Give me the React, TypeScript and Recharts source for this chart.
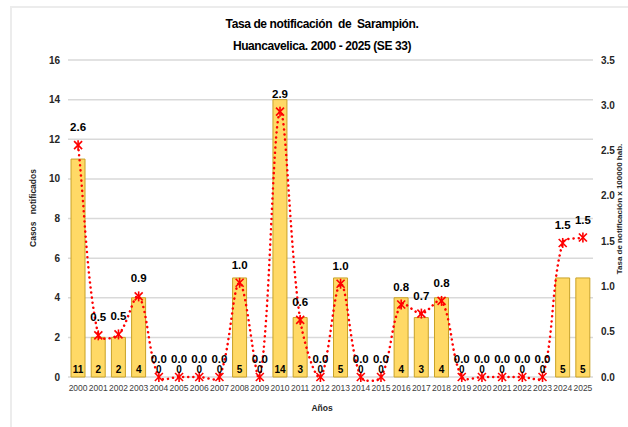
import { ComposedChart, Bar, Line, XAxis, YAxis, CartesianGrid, LabelList, Label } from "recharts";

const years = ["2000", "2001", "2002", "2003", "2004", "2005", "2006", "2007", "2008", "2009", "2010", "2011", "2012", "2013", "2014", "2015", "2016", "2017", "2018", "2019", "2020", "2021", "2022", "2023", "2024", "2025"];
const cases = [11, 2, 2, 4, 0, 0, 0, 0, 5, 0, 14, 3, 0, 5, 0, 0, 4, 3, 4, 0, 0, 0, 0, 0, 5, 5];
const rates = [2.56, 0.46, 0.47, 0.89, 0, 0, 0, 0, 1.04, 0, 2.93, 0.63, 0, 1.03, 0, 0, 0.8, 0.7, 0.84, 0, 0, 0, 0, 0, 1.48, 1.54];
const casesTicks = [0, 2, 4, 6, 8, 10, 12, 14, 16];
const rateTicks = [0, 0.5, 1, 1.5, 2, 2.5, 3, 3.5];

const data = years.map((year, i) => ({ year, cases: cases[i], rate: rates[i] }));

const FONT = "'Liberation Sans', Arial, sans-serif";

// smoothed line close to Excel's: tangents weighted by segment lengths
function excelSmooth(context: any) {
  let pts: number[][] = [];
  const dist = (a: number[], b: number[]) => Math.hypot(b[0] - a[0], b[1] - a[1]);
  return {
    areaStart() {},
    areaEnd() {},
    lineStart() {
      pts = [];
    },
    point(x: number, y: number) {
      pts.push([+x, +y]);
    },
    lineEnd() {
      const n = pts.length;
      if (!n) return;
      context.moveTo(pts[0][0], pts[0][1]);
      for (let i = 0; i < n - 1; i++) {
        const p0 = pts[Math.max(i - 1, 0)];
        const p1 = pts[i];
        const p2 = pts[i + 1];
        const p3 = pts[Math.min(i + 2, n - 1)];
        const d01 = dist(p0, p1);
        const d12 = dist(p1, p2);
        const d23 = dist(p2, p3);
        const f1 = d01 + d12 > 0 ? d12 / (d01 + d12) / 3 : 0;
        const f2 = d12 + d23 > 0 ? d12 / (d12 + d23) / 3 : 0;
        context.bezierCurveTo(
          p1[0] + (p2[0] - p0[0]) * f1,
          p1[1] + (p2[1] - p0[1]) * f1,
          p2[0] - (p3[0] - p1[0]) * f2,
          p2[1] - (p3[1] - p1[1]) * f2,
          p2[0],
          p2[1]
        );
      }
    },
  };
}

const StarDot = (props: any) => {
  const { cx, cy } = props;
  if (cx == null || cy == null) return null;
  return (
    <g stroke="#FF0000" strokeWidth={1.6}>
      <line x1={cx - 4} y1={cy - 4} x2={cx + 4} y2={cy + 4} />
      <line x1={cx - 4} y1={cy + 4} x2={cx + 4} y2={cy - 4} />
      <line x1={cx} y1={cy - 5} x2={cx} y2={cy + 5} />
    </g>
  );
};

export default function App() {
  return (
    <div style={{ position: "absolute", left: 0, top: 0, width: 628, height: 427, background: "#fff", fontFamily: FONT }}>
      <div style={{ position: "absolute", left: 10, top: 6, right: 0, bottom: 0, borderLeft: "2px solid #ececec", borderTop: "2px solid #ececec" }} />
      <ComposedChart
        width={628}
        height={427}
        data={data}
        margin={{ top: 60, right: 0, bottom: 20, left: 28 }}
        barCategoryGap="15%"
        style={{ position: "absolute", left: 0, top: 0 }}
      >
        <text x={322} y={28} textAnchor="middle" fontFamily={FONT} fontSize={12} fontWeight="bold" fill="#000" letterSpacing={-0.4} style={{ whiteSpace: "pre" }}>
          {"Tasa de notificación  de  Sarampión."}
        </text>
        <text x={322} y={50} textAnchor="middle" fontFamily={FONT} fontSize={12} fontWeight="bold" fill="#000" letterSpacing={-0.4}>
          Huancavelica. 2000 - 2025 (SE 33)
        </text>
        <CartesianGrid vertical={false} stroke="#d9d9d9" strokeWidth={1.5} yAxisId="left" />
        <XAxis
          dataKey="year"
          interval={0}
          height={30}
          axisLine={false}
          tickLine={false}
          tick={{ fontSize: 8.5, fill: "#404040", fontFamily: FONT }}
        >
          <Label
            content={() => (
              <text x={322} y={411} textAnchor="middle" fontFamily={FONT} fontSize={8.5} fontWeight="bold" fill="#262626">
                Años
              </text>
            )}
          />
        </XAxis>
        <YAxis
          yAxisId="left"
          width={40}
          domain={[0, 16]}
          ticks={casesTicks}
          axisLine={false}
          tickLine={false}
          tick={{ fontSize: 10, fill: "#262626", fontWeight: "bold", fontFamily: FONT }}
        >
          <Label
            content={() => (
              <text x={36} y={208} transform="rotate(-90 36 208)" textAnchor="middle" fontFamily={FONT} fontSize={8.5} fontWeight="bold" fill="#262626" style={{ whiteSpace: "pre" }}>
                {"Casos   notificados"}
              </text>
            )}
          />
        </YAxis>
        <YAxis
          yAxisId="right"
          orientation="right"
          width={35}
          domain={[0, 3.5]}
          ticks={rateTicks}
          tickFormatter={(v: number) => v.toFixed(1)}
          axisLine={false}
          tickLine={false}
          tick={{ fontSize: 10, fill: "#262626", fontWeight: "bold", fontFamily: FONT }}
        >
          <Label
            content={() => (
              <text x={622} y={209} transform="rotate(-90 622 209)" textAnchor="middle" fontFamily={FONT} fontSize={8} fontWeight="bold" fill="#262626">
                Tasa de notificación x 100000 hab.
              </text>
            )}
          />
        </YAxis>
        <Bar yAxisId="left" dataKey="cases" fill="#FFD966" stroke="#C9A227" strokeWidth={1} isAnimationActive={false} />
        {/* invisible baseline series that carries the case counts at the bottom of each bar (also for zero bars) */}
        <Line
          yAxisId="left"
          dataKey={() => 0}
          stroke="none"
          dot={false}
          activeDot={false}
          legendType="none"
          isAnimationActive={false}
        >
          <LabelList dataKey="cases" position="top" offset={4} fill="#000" fontSize={10} fontWeight="bold" fontFamily={FONT} />
        </Line>
        <Line
          yAxisId="right"
          dataKey="rate"
          type={excelSmooth as any}
          stroke="#FF0000"
          strokeWidth={2.5}
          strokeDasharray="0.1 5"
          strokeLinecap="round"
          dot={<StarDot />}
          activeDot={false}
          isAnimationActive={false}
        >
          <LabelList
            dataKey="rate"
            position="top"
            offset={14}
            formatter={(v: any) => Number(v).toFixed(1)}
            fill="#000"
            fontSize={11.5}
            fontWeight="bold"
            fontFamily={FONT}
          />
        </Line>
      </ComposedChart>
    </div>
  );
}
